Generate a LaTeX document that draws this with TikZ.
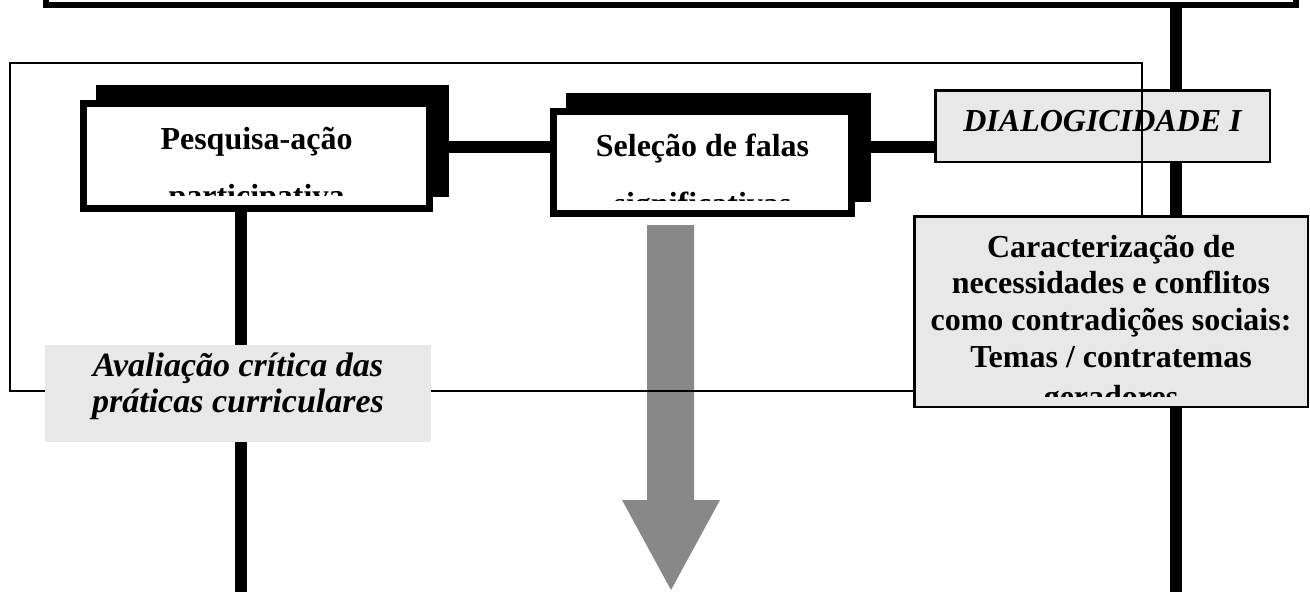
\documentclass[tikz,border=0pt]{standalone}
\usepackage{fontspec}
\setmainfont{Liberation Serif}
\usetikzlibrary{shadows,backgrounds}
\definecolor{cinzaclaro}{HTML}{E8E8E8}
\definecolor{cinzaseta}{HTML}{888888}
% linhas centradas, baseline na primeira linha
\newcommand{\linhas}[4][32]{\parbox[t]{#2}{\centering\fontsize{#1}{#3}\selectfont #4}}

\begin{document}
\begin{tikzpicture}[x=1pt, y=-1pt,
  conector/.style={line width=12pt},
  caixa/.style={draw, fill=white, line width=7pt, inner sep=0pt,
    copy shadow={shadow xshift=16pt, shadow yshift=15.5pt, draw=black, fill=black, line width=7pt}},
  caixacinza/.style={draw, fill=cinzaclaro, line width=2.5pt, inner sep=0pt},
  texto/.style={inner sep=0pt, anchor=base, font=\bfseries}]

\useasboundingbox (0,0) rectangle (1310,592);
\clip (0,0) rectangle (1310,592);

% barra superior
\node[draw, line width=6pt, outer sep=0pt, minimum width=1250pt, minimum height=60pt, anchor=south] (topo) at (670.5,5) {};

% caixas
\node[caixa, minimum width=346pt, minimum height=105pt] (pesq) at (256.5,156) {};
\begin{scope}
  \clip (87,107) rectangle (426,195);
  \node[texto] (pesqtxt) at (256.5,149) {\linhas{340pt}{57pt}{Pesquisa-ação\\participativa}};
\end{scope}

\node[caixa, minimum width=298pt, minimum height=102pt] (sel) at (702.5,162.5) {};
\begin{scope}
  \clip (557,115) rectangle (848,200);
  \node[texto] (seltxt) at (702.5,156) {\linhas{290pt}{58pt}{Seleção de falas\\significativas}};
\end{scope}

\node[caixacinza, minimum width=334.5pt, minimum height=71.5pt] (dial) at (1102.5,126) {};
\node[texto, font=\bfseries\itshape\fontsize{32}{37}\selectfont] (dialtxt) at (1102.5,131) {DIALOGICIDADE I};

% moldura
\draw[line width=2pt] (10,63) rectangle (1142,391);

\node[caixacinza, minimum width=393.5pt, minimum height=190.5pt] (carac) at (1111,311.5) {};
\begin{scope}
  \clip (916,218) rectangle (1306,396);
  \node[texto] (caractxt) at (1111,257) {\linhas{390pt}{36.7pt}{Caracterização de\\necessidades e conflitos\\como contradições sociais:\\Temas / contratemas\\[4pt]geradores}};
\end{scope}

\node[fill=cinzaclaro, inner sep=0pt, minimum width=386pt, minimum height=97pt] (aval) at (238,393.5) {};
\node[texto, font=\bfseries\itshape] (avaltxt) at (238,376) {\linhas[34]{384pt}{36pt}{Avaliação crítica das\\práticas curriculares}};

% conectores
\coordinate (linha) at (0,146.5);
\coordinate (esqfim) at (241,592);
\coordinate (dirfim) at (1176,592);
\begin{scope}[on background layer]
  \draw[conector] (pesq.east |- linha) -- (sel.west |- linha);
  \draw[conector] (sel.east |- linha) -- (dial.west |- linha);
  \draw[conector] (pesq.south -| esqfim) -- (esqfim);
  \draw[conector] (topo.south -| dirfim) -- (dirfim);
  \fill[cinzaseta] (647,225) -- (694,225) -- (694,500) -- (720,500) -- (671,590) -- (622,500) -- (647,500) -- cycle;
\end{scope}

\end{tikzpicture}
\end{document}
